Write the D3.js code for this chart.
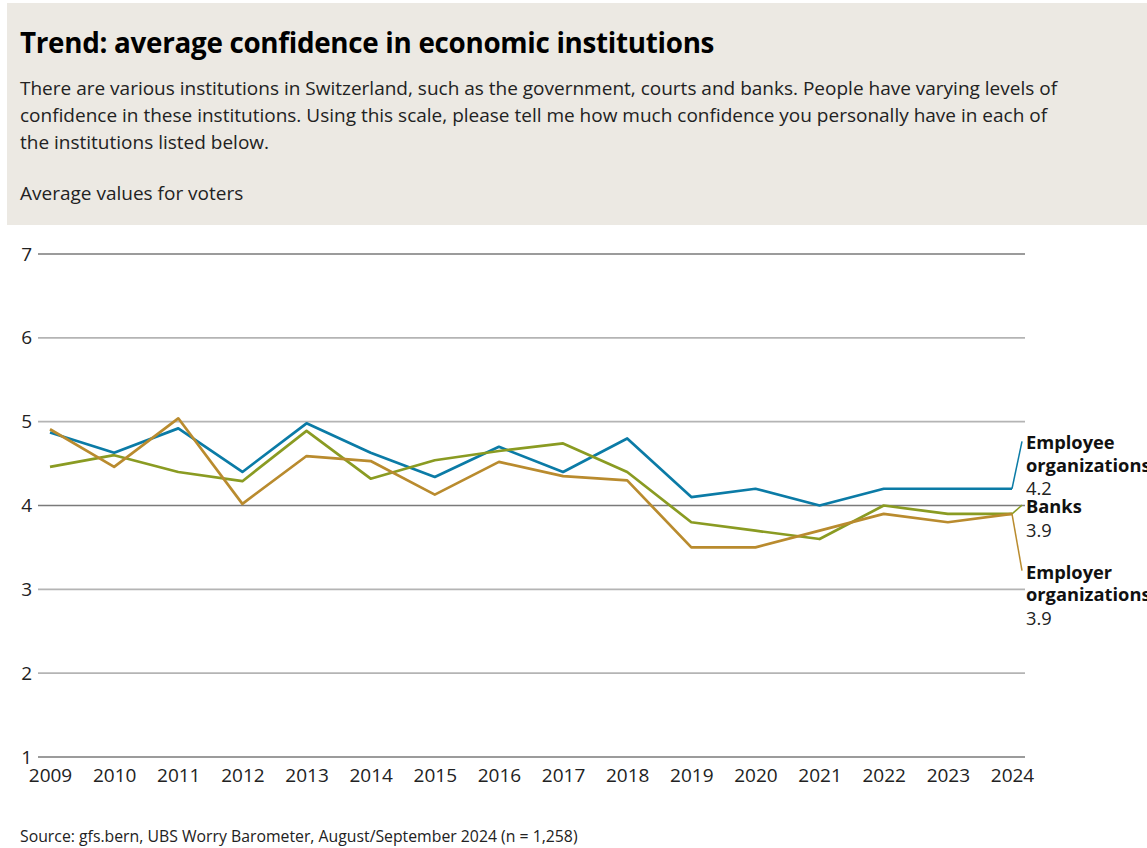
<!DOCTYPE html>
<html>
<head>
<meta charset="utf-8">
<script src="https://cdn.jsdelivr.net/npm/d3@7"></script>
<style>
  html, body { margin: 0; padding: 0; background: #fff; }
  svg { display: block; font-family: "Open Sans", "Noto Sans", sans-serif; }
</style>
</head>
<body>
<svg id="chart" width="1147" height="848"></svg>
<script>
// Survey years
const years = [2009, 2010, 2011, 2012, 2013, 2014, 2015, 2016, 2017, 2018, 2019, 2020, 2021, 2022, 2023, 2024];

// Average confidence per institution (scale 1–7)
const employeeOrgs = [4.87, 4.63, 4.92, 4.40, 4.98, 4.63, 4.34, 4.70, 4.40, 4.80, 4.1, 4.2, 4.0, 4.2, 4.2, 4.2];
const banks        = [4.46, 4.60, 4.40, 4.29, 4.89, 4.32, 4.54, 4.65, 4.74, 4.40, 3.8, 3.7, 3.6, 4.0, 3.9, 3.9];
const employerOrgs = [4.91, 4.46, 5.04, 4.02, 4.59, 4.53, 4.13, 4.52, 4.35, 4.30, 3.5, 3.5, 3.7, 3.9, 3.8, 3.9];

const yTicks = [1, 2, 3, 4, 5, 6, 7];

const seriesNames = [["Employee", "organizations"], ["Banks"], ["Employer", "organizations"]];
const seriesValues = [employeeOrgs, banks, employerOrgs];
const seriesColors = ["#0b7ba6", "#8a9b22", "#b98b2e"];
// vertical anchor of each end label block (in data units)
const labelAnchors = [4.8, 4.04, 3.26];

const svg = d3.select("#chart");
const textColor = "#222";

// Header panel
svg.append("rect").attr("x", 7).attr("y", 3).attr("width", 1140).attr("height", 222).attr("fill", "#ece9e3");

svg.append("text").attr("x", 20).attr("y", 53)
  .attr("font-size", 27.8).attr("font-weight", 700).attr("fill", "#000")
  .attr("letter-spacing", -0.3)
  .text("Trend: average confidence in economic institutions");

const subLines = [
  "There are various institutions in Switzerland, such as the government, courts and banks. People have varying levels of",
  "confidence in these institutions. Using this scale, please tell me how much confidence you personally have in each of",
  "the institutions listed below."
];
svg.append("g").selectAll("text").data(subLines).join("text")
  .attr("x", 20).attr("y", (d, i) => 95 + i * 27)
  .attr("font-size", 19).attr("fill", textColor)
  .text(d => d);

svg.append("text").attr("x", 20).attr("y", 200)
  .attr("font-size", 19).attr("fill", textColor)
  .text("Average values for voters");

// Scales
const x = d3.scalePoint().domain(years).range([50, 1012]);
const y = d3.scaleLinear().domain([1, 7]).range([757, 254]);

// Grid lines with value labels
const grid = svg.append("g");
grid.selectAll("line").data(yTicks).join("line")
  .attr("x1", 38).attr("x2", 1025)
  .attr("y1", d => y(d)).attr("y2", d => y(d))
  .attr("stroke", d => (d === 1 || d === 4 || d === 7) ? "#7a7a7a" : "#b4b4b4")
  .attr("stroke-width", 1.6);
grid.selectAll("text").data(yTicks).join("text")
  .attr("x", 32).attr("y", d => y(d)).attr("dy", "0.35em")
  .attr("text-anchor", "end").attr("font-size", 19).attr("fill", textColor)
  .text(d => d);

// X axis labels
const xAxis = svg.append("g").attr("transform", "translate(0,757)")
  .call(d3.axisBottom(x).tickSize(0).tickPadding(12).tickFormat(d3.format("d")));
xAxis.select(".domain").remove();
xAxis.selectAll("text").attr("font-size", 19).attr("fill", textColor)
  .attr("font-family", "\"Open Sans\", \"Noto Sans\", sans-serif");

// Series lines
const line = d3.line().x((d, i) => x(years[i])).y(d => y(d));
svg.append("g").selectAll("path").data(seriesValues).join("path")
  .attr("d", line).attr("fill", "none")
  .attr("stroke", (d, i) => seriesColors[i]).attr("stroke-width", 2.7)
  .attr("stroke-linejoin", "round");

// End labels with leader lines
const lastX = x(years[years.length - 1]);
const labelX = 1026;
seriesValues.forEach((vals, i) => {
  const last = vals[vals.length - 1];
  const top = y(labelAnchors[i]);
  svg.append("line")
    .attr("x1", lastX).attr("y1", y(last))
    .attr("x2", labelX - 4).attr("y2", top + 3)
    .attr("stroke", seriesColors[i]).attr("stroke-width", 1.5);
  const g = svg.append("g");
  seriesNames[i].forEach((nm, j) => {
    g.append("text").attr("x", labelX).attr("y", top + 11 + j * 22.5)
      .attr("font-size", 18.3).attr("font-weight", 700).attr("fill", "#111")
      .text(nm);
  });
  g.append("text").attr("x", labelX).attr("y", top + 11 + seriesNames[i].length * 22.5 + 1)
    .attr("font-size", 18.3).attr("fill", textColor)
    .text(d3.format(".1f")(last));
});

// Source note
svg.append("text").attr("x", 20).attr("y", 842)
  .attr("font-size", 15.8).attr("fill", textColor)
  .text("Source: gfs.bern, UBS Worry Barometer, August/September 2024 (n = 1,258)");
</script>
</body>
</html>
